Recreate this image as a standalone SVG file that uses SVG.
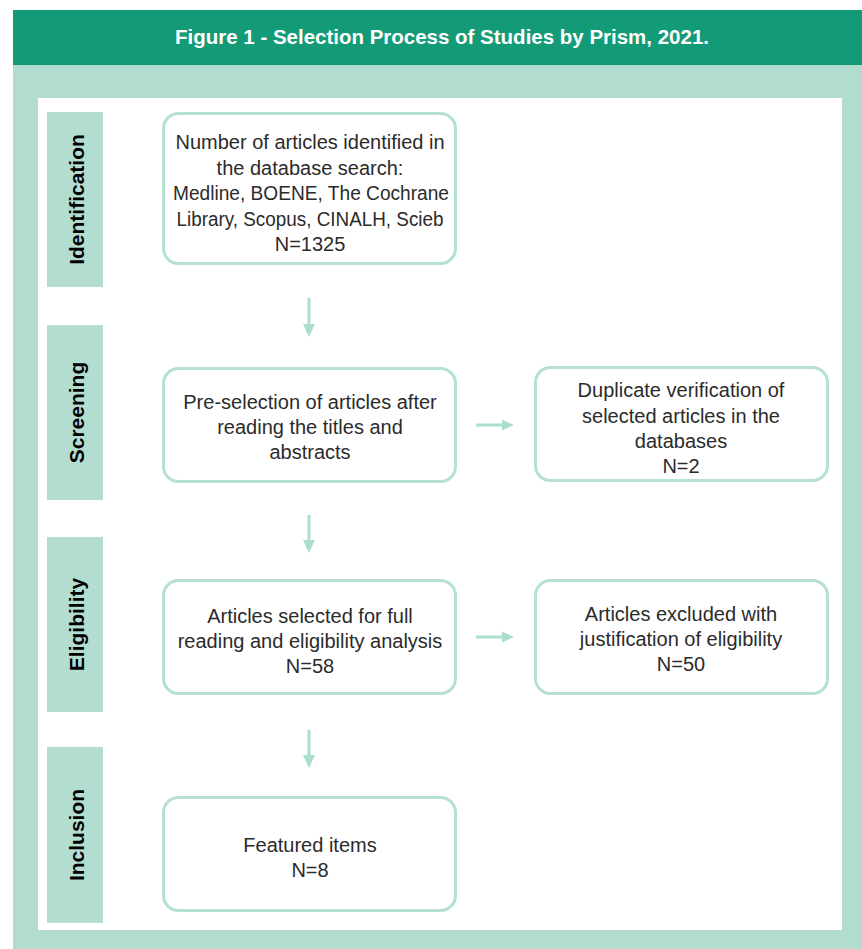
<svg xmlns="http://www.w3.org/2000/svg" width="862" height="949" viewBox="0 0 862 949">
<style>
.stage{fill:#b2ddd0}
.stxt{font-family:"Liberation Sans",Arial,sans-serif;font-weight:bold;font-size:21px;fill:#000;text-anchor:middle;dominant-baseline:central}
.box{fill:#fff;stroke:#b4e1d3;stroke-width:3}
.t{font-family:"Liberation Sans",Arial,sans-serif;font-size:20px;fill:#2b2b2b;text-anchor:middle}
.conn{stroke:#aadfcd;stroke-width:3;fill:none}
.head{fill:#aadfcd}
</style>
<rect x="0" y="0" width="862" height="949" fill="#fff"/>
<rect x="13" y="65" width="849" height="884" fill="#b2dccf"/>
<rect x="13" y="10" width="849" height="55" fill="#139a76"/>
<text x="442" y="44" font-family="Liberation Sans,Arial,sans-serif" font-weight="bold" font-size="21" fill="#fff" text-anchor="middle" textLength="534" lengthAdjust="spacingAndGlyphs">Figure 1 - Selection Process of Studies by Prism, 2021.</text>
<rect x="38" y="98" width="804" height="832" fill="#fff"/>

<g id="stage-identification"><rect class="stage" x="47" y="112" width="56" height="175"/><text class="stxt" transform="translate(76,199.5) rotate(-90)">Identification</text></g>
<g id="stage-screening"><rect class="stage" x="47" y="325" width="56" height="175"/><text class="stxt" transform="translate(76,412.5) rotate(-90)">Screening</text></g>
<g id="stage-eligibility"><rect class="stage" x="47" y="537" width="56" height="175"/><text class="stxt" transform="translate(76,624.5) rotate(-90)">Eligibility</text></g>
<g id="stage-inclusion"><rect class="stage" x="47" y="747" width="56" height="176"/><text class="stxt" transform="translate(76,835) rotate(-90)">Inclusion</text></g>

<g id="node-identified"><rect class="box" x="163.5" y="113.5" width="292" height="150" rx="15"/>
<text class="t"><tspan x="310" y="149">Number of articles identified in</tspan><tspan x="310" y="174.5">the database search:</tspan></text>
<text class="t" x="311" y="200" textLength="276" lengthAdjust="spacingAndGlyphs">Medline, BOENE, The Cochrane</text>
<text class="t" x="310" y="225.5" textLength="267" lengthAdjust="spacingAndGlyphs">Library, Scopus, CINALH, Scieb</text>
<text class="t" x="310" y="251">N=1325</text></g>

<g id="node-preselection"><rect class="box" x="163.5" y="368.5" width="292" height="113" rx="15"/>
<text class="t"><tspan x="310" y="409">Pre-selection of articles after</tspan><tspan x="310" y="434">reading the titles and</tspan><tspan x="310" y="459">abstracts</tspan></text></g>

<g id="node-duplicate"><rect class="box" x="535.5" y="367.5" width="292" height="113" rx="15"/>
<text class="t"><tspan x="681" y="397">Duplicate verification of</tspan><tspan x="681" y="422.5">selected articles in the</tspan><tspan x="681" y="448">databases</tspan><tspan x="681" y="473">N=2</tspan></text></g>

<g id="node-selected"><rect class="box" x="163.5" y="580.5" width="292" height="113" rx="15"/>
<text class="t"><tspan x="310" y="623">Articles selected for full</tspan><tspan x="310" y="648">reading and eligibility analysis</tspan><tspan x="310" y="673">N=58</tspan></text></g>

<g id="node-excluded"><rect class="box" x="535.5" y="580.5" width="292" height="113" rx="15"/>
<text class="t"><tspan x="681" y="621">Articles excluded with</tspan><tspan x="681" y="646">justification of eligibility</tspan><tspan x="681" y="671">N=50</tspan></text></g>

<g id="node-featured"><rect class="box" x="163.5" y="797.5" width="292" height="113" rx="15"/>
<text class="t"><tspan x="310" y="852">Featured items</tspan><tspan x="310" y="877">N=8</tspan></text></g>

<g id="connectors">
<line class="conn" x1="309" y1="298" x2="309" y2="326"/><polygon class="head" points="303,324 315,324 309,337"/>
<line class="conn" x1="309" y1="515" x2="309" y2="542"/><polygon class="head" points="303,540 315,540 309,553"/>
<line class="conn" x1="309" y1="730" x2="309" y2="757"/><polygon class="head" points="303,755 315,755 309,768"/>
<line class="conn" x1="476" y1="425" x2="504" y2="425"/><polygon class="head" points="502,419.5 502,430.5 514,425"/>
<line class="conn" x1="476" y1="637" x2="504" y2="637"/><polygon class="head" points="502,631.5 502,642.5 514,637"/>
</g>
</svg>
